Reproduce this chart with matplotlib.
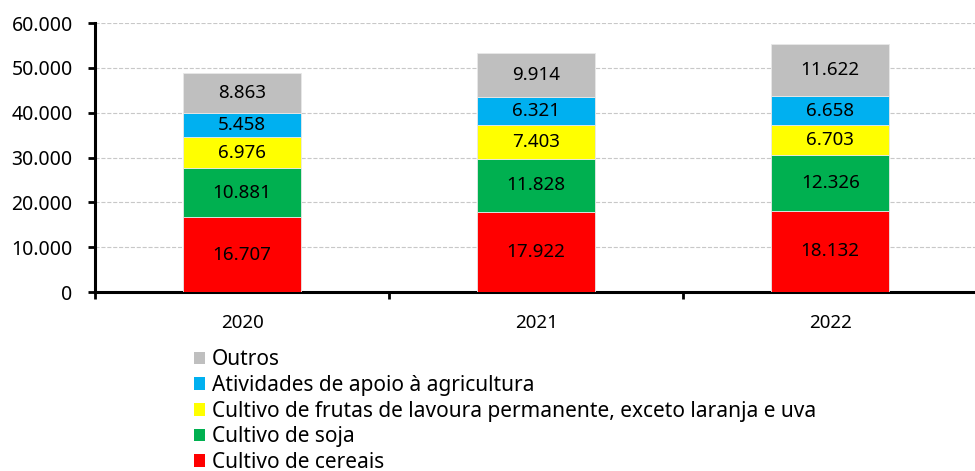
import numpy as np
import matplotlib.pyplot as plt
from matplotlib.patches import Patch
from matplotlib.ticker import FuncFormatter, FixedLocator

anos = ['2020', '2021', '2022']
series = ['Cultivo de cereais', 'Cultivo de soja',
          'Cultivo de frutas de lavoura permanente, exceto laranja e uva',
          'Atividades de apoio à agricultura', 'Outros']
cereais = [16707, 17922, 18132]
soja = [10881, 11828, 12326]
frutas = [6976, 7403, 6703]
apoio = [5458, 6321, 6658]
outros = [8863, 9914, 11622]
cores = ['#FF0000', '#00B050', '#FFFF00', '#00B0F0', '#BFBFBF']

plt.rcParams['font.family'] = ['Noto Sans', 'DejaVu Sans']

def fmt(v):
    return f'{v:,.0f}'.replace(',', '.')

fig = plt.figure(figsize=(9.75, 4.71), dpi=100)
ax = fig.add_axes([0.0974, 0.38, 0.905, 0.571])

x = np.arange(len(anos))
base = np.zeros(len(anos))
for vals, cor in zip([cereais, soja, frutas, apoio, outros], cores):
    vals = np.array(vals)
    ax.bar(x, vals, 0.4, bottom=base, color=cor, edgecolor='#e8e8e8', linewidth=0.6, zorder=3)
    for xi, b, v in zip(x, base, vals):
        ax.text(xi, b + v / 2, fmt(v), ha='center', va='center', fontsize=13.5, zorder=4)
    base = base + vals

ax.set_xlim(-0.5, 2.5)
ax.set_ylim(0, 60000)
ax.set_yticks(np.arange(0, 60001, 10000))
ax.yaxis.set_major_formatter(FuncFormatter(lambda v, p: fmt(v)))
ax.grid(axis='y', color='#c8c8c8', linestyle='--', linewidth=0.8, zorder=0)

ax.set_xticks(x)
ax.set_xticklabels(anos)
ax.tick_params(axis='x', which='major', length=0, labelsize=13.5, pad=16)
ax.xaxis.set_minor_locator(FixedLocator([-0.5, 0.5, 1.5, 2.5]))
ax.tick_params(axis='x', which='minor', length=5, width=2)
ax.tick_params(axis='y', length=5, width=2, labelsize=14, pad=11)

for s in ['top', 'right']:
    ax.spines[s].set_visible(False)
for s in ['left', 'bottom']:
    ax.spines[s].set_linewidth(2.2)

handles = [Patch(facecolor=c, edgecolor='none') for c in cores][::-1]
fig.legend(handles, series[::-1], loc='upper left', bbox_to_anchor=(0.199, 0.258),
           frameon=False, fontsize=15, handlelength=0.55, handleheight=0.55,
           handletextpad=0.3, labelspacing=0.22, borderpad=0, borderaxespad=0)

fig.savefig('out.png', dpi=100)
